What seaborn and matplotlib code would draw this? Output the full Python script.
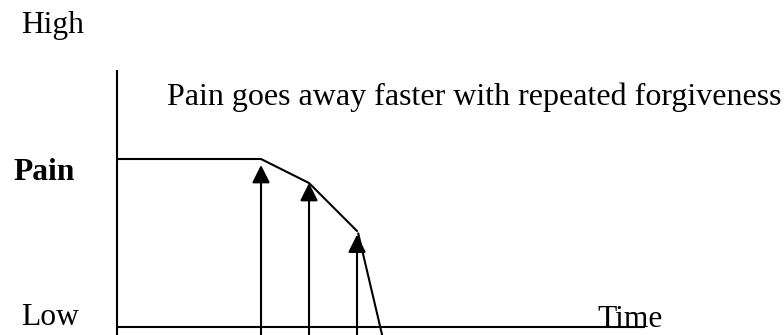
import matplotlib
matplotlib.use("Agg")
import matplotlib.pyplot as plt
import seaborn as sns
import pandas as pd

# Pain level over time, eased by each act of forgiveness
time = [0, 6, 8, 10]
pain = [7, 7, 6, 4]

# Final drop once forgiveness takes hold
drop_time = [10.05, 11.05]
drop_pain = [3.9, -0.35]

# Moments of forgiveness (arrows) and where each arrow head stops
forgive_time = [6, 8, 10]
forgive_tip = [6.75, 6.0, 3.85]

# Axis extents
time_max = 22
pain_max = 10.7

sns.set_theme(style="white")
plt.rcParams["font.family"] = ["Liberation Serif", "DejaVu Serif"]
plt.rcParams["text.color"] = "black"

fig = plt.figure(figsize=(7.84, 3.35), dpi=100)
ax = fig.add_axes([0, 0, 1, 1])
ax.set_xlim(-4.875, 27.79)
ax.set_ylim(-0.333, 13.625)
ax.axis("off")

lw = 1.5
# Axes of the diagram
ax.plot([0, 0], [-0.4, pain_max], color="black", lw=lw, solid_capstyle="butt")
ax.plot([0, time_max], [0, 0], color="black", lw=lw, solid_capstyle="butt")

curve = pd.DataFrame({"time": time, "pain": pain})
sns.lineplot(data=curve, x="time", y="pain", color="black", lw=lw, ax=ax,
             sort=False, estimator=None)
drop = pd.DataFrame({"time": drop_time, "pain": drop_pain})
sns.lineplot(data=drop, x="time", y="pain", color="black", lw=lw, ax=ax,
             sort=False, estimator=None)

for t, tip in zip(forgive_time, forgive_tip):
    ax.annotate("", xy=(t, tip), xytext=(t, -0.4),
                arrowprops=dict(arrowstyle="-|>,head_length=0.6,head_width=0.3",
                                mutation_scale=18, lw=lw, color="black",
                                shrinkA=0, shrinkB=0))

fs = 22.7
ax.text(-4.0, 12.25, "High", fontsize=fs, color="black", ha="left", va="baseline")
ax.text(-4.33, 6.125, "Pain", fontsize=fs, fontweight="bold", color="black",
        ha="left", va="baseline")
ax.text(2.08, 9.25, "Pain goes away faster with repeated forgiveness",
        fontsize=23.0, color="black", ha="left", va="baseline")
ax.text(-4.0, 0.083, "Low", fontsize=fs, color="black", ha="left", va="baseline")
ax.text(20.0, 0.0, "Time", fontsize=fs, color="black", ha="left", va="baseline")

ax.set_xlabel("")
ax.set_ylabel("")
fig.savefig("out.png", dpi=100)
